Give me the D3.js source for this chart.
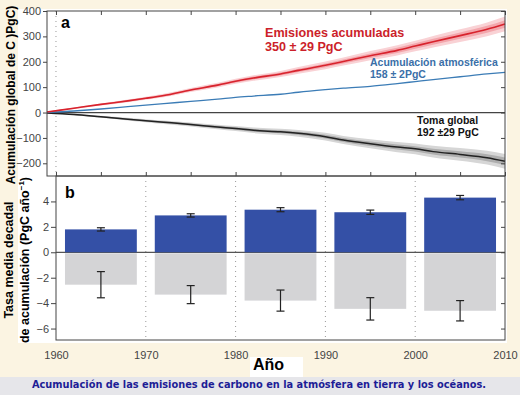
<!DOCTYPE html>
<html lang="es">
<head>
    <meta charset="UTF-8">
    <title>Acumulación de carbono</title>
    <style>
        body {
            margin: 0;
            padding: 0;
            overflow: hidden;
            background-color: #fbf4e2;
            font-family: "Liberation Sans", Arial, sans-serif;
        }
        .tick text {
            font-size: 11px;
            fill: #444;
            font-family: "Liberation Sans", Arial, sans-serif;
        }
        .tick line, .domain {
            stroke: #444;
        }
    </style>
    <script src="https://d3js.org/d3.v7.min.js"></script>
</head>
<body>
    <div id="chart"></div>
    <script>
        // panel a: cumulative values (PgC)
        const years = [1959, 1962, 1965, 1968, 1970, 1972, 1975, 1978, 1980, 1982, 1985,
                       1987, 1990, 1992, 1995, 1998, 2000, 2002, 2005, 2008, 2010];
        const emissions = [2, 17, 32, 46, 56, 67, 89, 108, 123, 136, 152,
                           166, 186, 201, 224, 245, 262, 279, 303, 328, 349];
        const emissionsErr = [2, 3, 4, 5, 6, 7, 8, 9, 10, 11, 12,
                              13, 15, 16, 18, 20, 21, 23, 25, 27, 29];
        const atmosphere = [0, 6, 14, 23, 29, 35, 44, 53, 60, 65, 72,
                            80, 90, 96, 103, 114, 122, 130, 141, 152, 158];
        const uptake = [-2, -8, -17, -26, -32, -38, -47, -57, -63, -70, -76,
                        -82, -95, -108, -123, -136, -143, -154, -165, -178, -192];
        const uptakeErr = [2, 3, 4, 5, 6, 7, 8, 9, 10, 11, 12,
                           13, 15, 16, 18, 20, 21, 23, 25, 27, 29];

        // panel b: decadal mean rates (PgC per year)
        const decades = [1960, 1970, 1980, 1990, 2000];
        const atmosRate = [1.8, 2.9, 3.35, 3.15, 4.3];
        const atmosRateErr = [0.13, 0.13, 0.16, 0.17, 0.17];
        const sinkRate = [-2.55, -3.33, -3.8, -4.45, -4.6];
        const sinkRateErr = [1.03, 0.71, 0.83, 0.88, 0.8];

        const ticksA = [-200, -100, 0, 100, 200, 300, 400];
        const ticksB = [-6, -4, -2, 0, 2, 4];
        const ticksYear = [1960, 1970, 1980, 1990, 2000, 2010];
        const ticksYearMinor = [1960, 1965, 1970, 1975, 1980, 1985, 1990, 1995, 2000, 2005, 2010];

        const width = 520, height = 395;
        const svg = d3.select('#chart').append('svg')
            .attr('width', width)
            .attr('height', height);

        // white sheet behind the chart, grey caption strip
        svg.append('rect').attr('x', 18).attr('y', 9).attr('width', 489).attr('height', 334).attr('fill', '#fff');
        svg.append('rect').attr('x', 0).attr('y', 377).attr('width', width).attr('height', 18).attr('fill', '#e6e6ea');

        const xA = d3.scaleLinear().domain([1959, 2010]).range([47, 505]);
        const xB = d3.scaleLinear().domain([1960, 2010]).range([56, 505]);
        const yA = d3.scaleLinear().domain([-250, 400]).range([176, 11]);
        const yB = d3.scaleLinear().domain([-6.9, 6]).range([340, 176]);

        // ---------- panel a ----------
        const gA = svg.append('g');
        gA.append('line')
            .attr('x1', xA(1960)).attr('x2', xA(1960))
            .attr('y1', yA(400)).attr('y2', yA(-250))
            .attr('stroke', '#999').attr('stroke-dasharray', '1,4');

        const pts = years.map((y, i) => ({
            year: y, em: emissions[i], emErr: emissionsErr[i], at: atmosphere[i],
            up: uptake[i], upErr: uptakeErr[i]
        }));
        const band = (val, err, k) => d3.area().curve(d3.curveMonotoneX)
            .x(d => xA(d.year))
            .y0(d => yA(d[val] - d[err] * k))
            .y1(d => yA(d[val] + d[err] * k));
        const line = val => d3.line().curve(d3.curveMonotoneX)
            .x(d => xA(d.year)).y(d => yA(d[val]));

        gA.append('path').datum(pts).attr('d', band('up', 'upErr', 1)).attr('fill', '#d6d6d6');
        gA.append('path').datum(pts).attr('d', band('up', 'upErr', 0.5)).attr('fill', '#aeaeae');
        gA.append('path').datum(pts).attr('d', band('em', 'emErr', 1)).attr('fill', '#f9d2d5');
        gA.append('path').datum(pts).attr('d', band('em', 'emErr', 0.5)).attr('fill', '#f3a6ac');

        gA.append('line')
            .attr('x1', xA(1959)).attr('x2', xA(2010))
            .attr('y1', yA(0)).attr('y2', yA(0))
            .attr('stroke', '#444').attr('stroke-width', 1.2);

        gA.append('path').datum(pts).attr('d', line('up')).attr('fill', 'none').attr('stroke', '#222').attr('stroke-width', 1.5);
        gA.append('path').datum(pts).attr('d', line('at')).attr('fill', 'none').attr('stroke', '#3b7cb6').attr('stroke-width', 1.3);
        gA.append('path').datum(pts).attr('d', line('em')).attr('fill', 'none').attr('stroke', '#d8232d').attr('stroke-width', 1.6);

        gA.append('g').attr('transform', `translate(${xA(1959)},0)`)
            .call(d3.axisLeft(yA).tickValues(ticksA).tickSize(4).tickPadding(2).tickFormat(d => d === 0 ? '0' : d3.format('')(d).replace('-', '\u2212')));
        gA.append('g').attr('transform', `translate(${xA(2010)},0)`)
            .call(d3.axisLeft(yA).tickValues(ticksA).tickSize(4).tickFormat(''));
        gA.append('g').attr('transform', `translate(0,${yA(400)})`)
            .call(d3.axisBottom(xA).tickValues(ticksYearMinor).tickSize(4).tickFormat(''));
        gA.append('g').attr('transform', `translate(0,${yA(-250)})`)
            .call(d3.axisTop(xA).tickValues(ticksYearMinor).tickSize(4).tickFormat(''));
        gA.selectAll('.domain').remove();
        gA.append('rect')
            .attr('x', xA(1959)).attr('y', yA(400))
            .attr('width', xA(2010) - xA(1959)).attr('height', yA(-250) - yA(400))
            .attr('fill', 'none').attr('stroke', '#444');

        gA.append('text').attr('x', 61).attr('y', 28)
            .attr('font-size', 16).attr('font-weight', 'bold').text('a');

        gA.append('text').attr('x', 265).attr('y', 37)
            .attr('font-size', 12.6).attr('font-weight', 'bold').attr('fill', '#cc1f2a')
            .text('Emisiones acumuladas');
        gA.append('text').attr('x', 265).attr('y', 51)
            .attr('font-size', 12.6).attr('font-weight', 'bold').attr('fill', '#cc1f2a')
            .text('350 ± 29 PgC');
        gA.append('text').attr('x', 370).attr('y', 66)
            .attr('font-size', 10.5).attr('font-weight', 'bold').attr('fill', '#3a6fa8')
            .text('Acumulación atmosférica');
        gA.append('text').attr('x', 370).attr('y', 78)
            .attr('font-size', 10.5).attr('font-weight', 'bold').attr('fill', '#3a6fa8')
            .text('158 ± 2PgC');
        gA.append('text').attr('x', 417).attr('y', 124)
            .attr('font-size', 10.5).attr('font-weight', 'bold').attr('fill', '#111')
            .text('Toma global');
        gA.append('text').attr('x', 417).attr('y', 136)
            .attr('font-size', 10.5).attr('font-weight', 'bold').attr('fill', '#111')
            .text('192 ±29 PgC');

        svg.append('text')
            .attr('transform', 'translate(15,95) rotate(-90)')
            .attr('text-anchor', 'middle')
            .attr('font-size', 12).attr('font-weight', 'bold')
            .text('Acumulación global de C )PgC)');

        // ---------- panel b ----------
        const gB = svg.append('g');
        gB.selectAll('.grid').data(decades.slice(1)).enter().append('line')
            .attr('x1', d => xB(d)).attr('x2', d => xB(d))
            .attr('y1', yB(6)).attr('y2', yB(-6.9))
            .attr('stroke', '#999').attr('stroke-dasharray', '1,4');

        gB.append('line')
            .attr('x1', xB(1960)).attr('x2', xB(2010))
            .attr('y1', yB(0)).attr('y2', yB(0))
            .attr('stroke', '#555').attr('stroke-width', 1.2);

        gB.selectAll('.atm').data(decades).enter().append('rect')
            .attr('x', d => xB(d + 1))
            .attr('width', d => xB(d + 9) - xB(d + 1))
            .attr('y', (d, i) => yB(atmosRate[i]))
            .attr('height', (d, i) => yB(0) - yB(atmosRate[i]))
            .attr('fill', '#3450a6');
        gB.selectAll('.sink').data(decades).enter().append('rect')
            .attr('x', d => xB(d + 1))
            .attr('width', d => xB(d + 9) - xB(d + 1))
            .attr('y', yB(0) + 1)
            .attr('height', (d, i) => yB(sinkRate[i]) - yB(0) - 1)
            .attr('fill', '#d4d4d6');

        function errorBars(vals, errs) {
            const eb = gB.selectAll(null).data(decades).enter().append('g')
                .attr('stroke', '#222').attr('stroke-width', 1.2);
            eb.append('line')
                .attr('x1', d => xB(d + 5)).attr('x2', d => xB(d + 5))
                .attr('y1', (d, i) => yB(vals[i] + errs[i]))
                .attr('y2', (d, i) => yB(vals[i] - errs[i]));
            eb.append('line')
                .attr('x1', d => xB(d + 5) - 4).attr('x2', d => xB(d + 5) + 4)
                .attr('y1', (d, i) => yB(vals[i] + errs[i]))
                .attr('y2', (d, i) => yB(vals[i] + errs[i]));
            eb.append('line')
                .attr('x1', d => xB(d + 5) - 4).attr('x2', d => xB(d + 5) + 4)
                .attr('y1', (d, i) => yB(vals[i] - errs[i]))
                .attr('y2', (d, i) => yB(vals[i] - errs[i]));
        }
        errorBars(atmosRate, atmosRateErr);
        errorBars(sinkRate, sinkRateErr);

        gB.append('g').attr('transform', `translate(${xB(1960)},0)`)
            .call(d3.axisLeft(yB).tickValues(ticksB).tickSize(5).tickPadding(2).tickFormat(d => d === 0 ? '0' : d3.format('')(d).replace('-', '\u2212')));
        gB.append('g').attr('transform', `translate(${xB(2010)},0)`)
            .call(d3.axisLeft(yB).tickValues(ticksB).tickSize(4).tickFormat(''));
        gB.append('g').attr('transform', `translate(0,${yB(-6.9)})`)
            .call(d3.axisBottom(xB).tickValues(ticksYear).tickSize(0).tickPadding(11).tickFormat(d3.format('d')));
        gB.selectAll('.domain').remove();
        gB.append('rect')
            .attr('x', xB(1960)).attr('y', yB(6))
            .attr('width', xB(2010) - xB(1960)).attr('height', yB(-6.9) - yB(6))
            .attr('fill', 'none').attr('stroke', '#444');

        gB.append('text').attr('x', 65).attr('y', 198)
            .attr('font-size', 16).attr('font-weight', 'bold').text('b');

        svg.append('text')
            .attr('transform', 'translate(13,260) rotate(-90)')
            .attr('text-anchor', 'middle')
            .attr('font-size', 12.5).attr('font-weight', 'bold')
            .text('Tasa media decadal');
        const lab2 = svg.append('text')
            .attr('transform', 'translate(29,260) rotate(-90)')
            .attr('text-anchor', 'middle')
            .attr('font-size', 12.5).attr('font-weight', 'bold');
        lab2.append('tspan').text('de acumulación (PgC año');
        lab2.append('tspan').attr('font-size', 8).attr('dy', -5).text('−1');
        lab2.append('tspan').attr('dy', 5).text(')');

        // x label with white box
        svg.append('rect').attr('x', 250).attr('y', 357).attr('width', 53).attr('height', 20).attr('fill', '#fff');
        svg.append('text').attr('x', 253).attr('y', 370)
            .attr('font-size', 16).attr('font-weight', 'bold').text('Año');

        svg.append('text').attr('x', 259).attr('y', 388)
            .attr('text-anchor', 'middle')
            .attr('font-family', '"DejaVu Sans", Verdana, sans-serif')
            .attr('font-size', 9.8).attr('font-weight', 'bold').attr('fill', '#1d1d96')
            .text('Acumulación de las emisiones de carbono en la atmósfera en tierra y los océanos.');
    </script>
</body>
</html>
